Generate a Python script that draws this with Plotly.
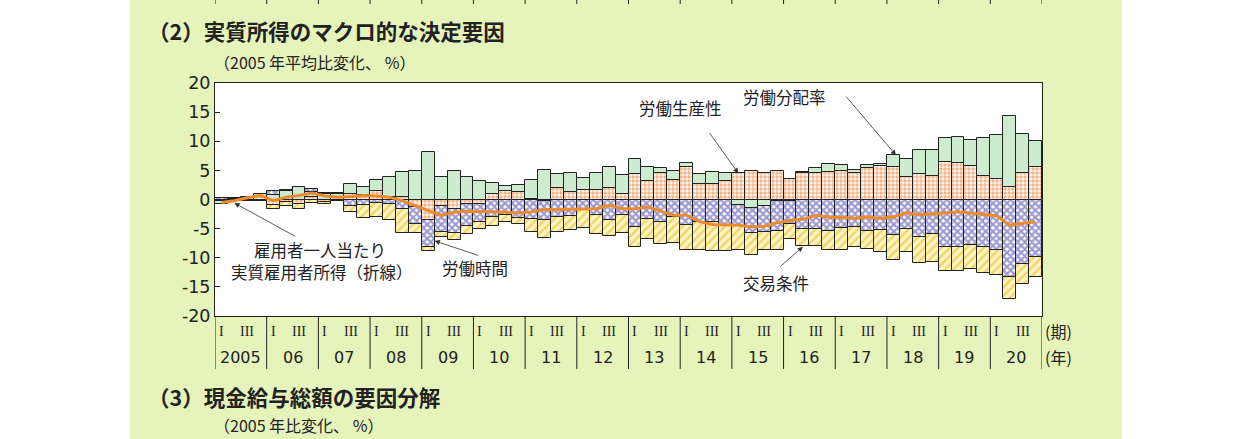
import plotly.graph_objects as go

# quarters 2005 I .. 2020 IV
years = ["2005", "06", "07", "08", "09", "10", "11", "12",
         "13", "14", "15", "16", "17", "18", "19", "20"]
quarter_marks = ["I", "III"]
y_ticks = [-20, -15, -10, -5, 0, 5, 10, 15, 20]
y_tick_text = ["-20", "-15", "-10", "-5", "0", "5", "10", "15", "20"]

# 労働生産性
productivity = [-0.3, 0.1, 0.2, 0.4, -0.9, -0.5, -0.8, 0.5, -0.4, 0.3, 1.0, 0.7, 1.4, 0.5, 0.4, -1.3,
                -3.6, -1.2, -1.7, -0.7, -0.7, 0.9, 1.5, 1.3, 0.1, -0.3, 1.9, 1.3, 1.7, 1.7, 2.0, 1.0,
                4.4, 3.1, 4.6, 3.4, 5.6, 2.7, 2.7, 3.1, 4.5, 4.9, 4.6, 4.9, 3.5, 4.6, 4.6, 4.8,
                4.9, 4.6, 5.4, 5.7, 5.6, 3.8, 4.3, 4.0, 6.5, 6.2, 5.8, 4.0, 3.6, 2.2, 4.6, 5.5]
# 労働分配率
labor_share = [-0.5, -0.2, 0.3, 0.6, 0.8, 1.5, 2.2, 0.8, 1.0, 0.7, 1.6, 1.4, 1.9, 3.4, 4.3, 4.9,
               8.1, 3.9, 4.9, 3.9, 3.2, 2.0, 0.8, 1.2, 3.3, 5.1, 2.5, 3.3, 2.0, 2.9, 3.5, 3.2,
               2.6, 2.4, 0.8, 1.5, 0.7, 1.7, 2.0, 1.5, -0.9, -1.5, -1.1, -0.3, -0.2, 0.1, 0.8, 1.3,
               1.0, 0.4, 0.5, 0.4, 2.0, 3.1, 4.2, 4.5, 4.0, 4.5, 4.5, 6.5, 7.4, 12.1, 6.6, 4.6]
# 労働時間
hours = [0.2, 0.1, -0.1, -0.1, 0.6, 0.2, 0.0, 0.5, 0.1, 0.1, -1.1, -1.0, -0.6, -0.7, -1.6, -2.9,
         -4.5, -4.4, -4.1, -3.8, -3.2, -3.0, -2.6, -3.1, -3.3, -3.3, -3.0, -2.9, -1.6, -2.6, -3.5, -2.7,
         -4.7, -3.4, -3.9, -3.0, -4.3, -3.8, -3.9, -4.5, -3.7, -4.3, -4.4, -5.1, -4.0, -5.1, -5.1, -5.4,
         -4.9, -4.8, -5.4, -5.3, -6.1, -5.1, -6.4, -5.9, -8.1, -8.1, -7.8, -8.2, -8.7, -13.3, -11.0, -9.8]
# 交易条件
terms_of_trade = [0.0, -0.1, -0.1, -0.2, -0.8, -0.7, -0.9, -0.6, -0.3, -0.3, -1.0, -2.1, -2.4, -2.9, -4.2, -1.6,
                  -0.8, -0.9, -1.1, -1.4, -1.1, -1.5, -1.2, -1.1, -2.3, -3.0, -2.6, -2.3, -3.3, -3.4, -2.8, -3.1,
                  -3.4, -3.3, -3.7, -4.4, -4.3, -4.8, -5.0, -4.4, -4.1, -3.8, -3.2, -3.3, -2.5, -2.9, -2.8, -3.3,
                  -3.8, -3.3, -3.1, -3.7, -4.3, -3.9, -4.5, -4.8, -4.1, -4.1, -4.1, -4.4, -4.2, -3.7, -3.5, -3.5]
# 雇用者一人当たり実質雇用者所得（折線）
real_income = [-0.5, -0.2, 0.3, 0.7, -0.2, 0.4, 0.7, 1.1, 0.6, 0.4, 0.5, 0.7, 0.6, 0.4, -0.2, -1.1,
               -1.9, -2.7, -2.2, -2.0, -2.0, -2.1, -2.2, -2.3, -2.1, -1.7, -1.7, -1.7, -1.6, -1.6, -1.0, -1.6,
               -1.6, -1.3, -2.0, -2.7, -2.7, -3.8, -4.3, -4.4, -4.4, -4.7, -4.6, -4.0, -3.6, -3.4, -2.7, -3.0,
               -3.1, -3.2, -3.0, -3.2, -3.0, -2.3, -2.6, -2.5, -2.3, -2.1, -2.3, -2.6, -2.8, -4.4, -4.1, -3.8]

W, H = 1241, 439
L, R, T, B = 215, 1042, 83, 316
n_q = len(years) * 4
quarters = list(range(n_q))


def px(x):
    return (x - L) / (R - L)


def py(y):
    return (B - y) / (B - T)


edge = dict(color="#222222", width=1)
fig = go.Figure()
fig.add_trace(go.Bar(
    x=quarters, y=productivity, width=1, name="労働生産性",
    marker=dict(color="white", line=edge,
                pattern=dict(shape=".", fgcolor="#e8701e", bgcolor="#fffaf4", size=4, solidity=0.6))
))
fig.add_trace(go.Bar(
    x=quarters, y=labor_share, width=1, name="労働分配率",
    marker=dict(color="#cdeccf", line=edge)
))
fig.add_trace(go.Bar(
    x=quarters, y=hours, width=1, name="労働時間",
    marker=dict(color="white", line=edge,
                pattern=dict(shape="x", fgcolor="#3f37a2", bgcolor="white", size=5, solidity=0.7))
))
fig.add_trace(go.Bar(
    x=quarters, y=terms_of_trade, width=1, name="交易条件",
    marker=dict(color="#fff4b0", line=edge,
                pattern=dict(shape="/", fgcolor="#e2ad22", bgcolor="#fff6bc", size=6, solidity=0.4))
))
fig.add_trace(go.Scatter(
    x=quarters, y=real_income, mode="lines", name="実質雇用者所得",
    line=dict(color="#ec8a2e", width=3)
))

shapes = []
# white page outside the green panel
shapes.append(dict(type="rect", xref="paper", yref="paper", x0=px(0), x1=px(130), y0=py(H), y1=py(0),
                   fillcolor="white", line_width=0, layer="below"))
shapes.append(dict(type="rect", xref="paper", yref="paper", x0=px(1122), x1=px(W), y0=py(H), y1=py(0),
                   fillcolor="white", line_width=0, layer="below"))
# year separators below the axis, and the ticks of the chart above
for k in range(len(years) + 1):
    shapes.append(dict(type="line", xref="x", yref="paper", x0=4 * k - 0.5, x1=4 * k - 0.5,
                       y0=0, y1=py(369), line=dict(color="#222222", width=1)))
    shapes.append(dict(type="line", xref="x", yref="paper", x0=4 * k - 0.5, x1=4 * k - 0.5,
                       y0=py(0), y1=py(4), line=dict(color="#222222", width=1)))

ann = []
num_font = dict(family="DejaVu Sans", size=16, color="#222222")
for k, yr in enumerate(years):
    ann.append(dict(x=4 * k + 1.5, y=py(357), xref="x", yref="paper", text=yr, showarrow=False,
                    xanchor="center", yanchor="middle", font=num_font))
    for j, mark in enumerate(quarter_marks):
        ann.append(dict(x=4 * k + 2 * j, y=py(331), xref="x", yref="paper", text=mark, showarrow=False,
                        xanchor="center", yanchor="middle",
                        font=dict(family="Liberation Serif", size=14, color="#222222")))
jp = dict(family="Noto Sans CJK JP", size=16, color="#222222")
ann.append(dict(x=px(1043), y=py(331), xref="paper", yref="paper", text="(期)", showarrow=False,
                xanchor="left", yanchor="middle", font=jp))
ann.append(dict(x=px(1043), y=py(357), xref="paper", yref="paper", text="(年)", showarrow=False,
                xanchor="left", yanchor="middle", font=jp))

# titles
title_font = dict(family="Noto Sans CJK JP", size=21.5, color="#222222", weight="bold")
sub_font = dict(family="Noto Sans CJK JP", size=16, color="#222222")
ann.append(dict(x=px(146), y=py(30), xref="paper", yref="paper", text="（2）実質所得のマクロ的な決定要因",
                showarrow=False, xanchor="left", yanchor="middle", font=title_font))
ann.append(dict(x=px(212), y=py(62), xref="paper", yref="paper", text="（2005 年平均比変化、 %）",
                showarrow=False, xanchor="left", yanchor="middle", font=sub_font))
ann.append(dict(x=px(146), y=py(396), xref="paper", yref="paper", text="（3）現金給与総額の要因分解",
                showarrow=False, xanchor="left", yanchor="middle", font=title_font))
ann.append(dict(x=px(212), y=py(425), xref="paper", yref="paper", text="（2005 年比変化、 %）",
                showarrow=False, xanchor="left", yanchor="middle", font=sub_font))
ann.append(dict(x=px(209), y=py(449), xref="paper", yref="paper", text="10",
                showarrow=False, xanchor="right", yanchor="middle",
                font=dict(family="DejaVu Sans", size=17, color="#222222")))

# labels with arrows
arrow = dict(showarrow=True, arrowhead=2, arrowsize=1.3, arrowwidth=0.8, arrowcolor="#333333",
             axref="pixel", ayref="pixel", text="", xref="x", yref="y")
ann.append(dict(arrow, x=40, y=4.5, ax=-30, ay=-42))
ann.append(dict(arrow, x=52.2, y=7.6, ax=-51, ay=-60))
ann.append(dict(arrow, x=1.0, y=-0.6, ax=62, ay=34))
ann.append(dict(arrow, x=16.5, y=-7.1, ax=45, ay=15))
ann.append(dict(arrow, x=45.0, y=-8.1, ax=-24, ay=21))
for txt, x, y in [("労働生産性", 680, 108), ("労働分配率", 784, 97), ("雇用者一人当たり", 320, 250),
                  ("実質雇用者所得（折線）", 322, 272), ("労働時間", 475, 268), ("交易条件", 776, 283)]:
    ann.append(dict(x=px(x), y=py(y), xref="paper", yref="paper", text=txt, showarrow=False,
                    xanchor="center", yanchor="middle",
                    font=dict(family="Noto Sans CJK JP", size=16.5, color="#222222")))

fig.update_layout(
    width=W, height=H, autosize=False,
    margin=dict(l=L, r=W - R, t=T, b=H - B, pad=0),
    paper_bgcolor="#e6f3bb", plot_bgcolor="white",
    barmode="relative", bargap=0, showlegend=False,
    font=dict(family="Noto Sans CJK JP", color="#222222"),
    shapes=shapes, annotations=ann)
fig.update_xaxes(range=[-0.5, n_q - 0.5], showticklabels=False, ticks="", showgrid=False,
                 zeroline=False, showline=True, mirror=True, linecolor="#222222", linewidth=1)
fig.update_yaxes(range=[-20, 20], tickvals=y_ticks, ticktext=y_tick_text, ticks="inside", ticklen=5,
                 tickcolor="#222222", showgrid=False, zeroline=False, showline=True, mirror=True,
                 linecolor="#222222", linewidth=1,
                 tickfont=dict(family="DejaVu Sans", size=17.5, color="#222222"))
# the page body has a default 8px margin; drop it so the figure sits at the window corner
fig.write_html("out.html", config={"displayModeBar": False},
               post_script="document.body.style.margin='0';")
